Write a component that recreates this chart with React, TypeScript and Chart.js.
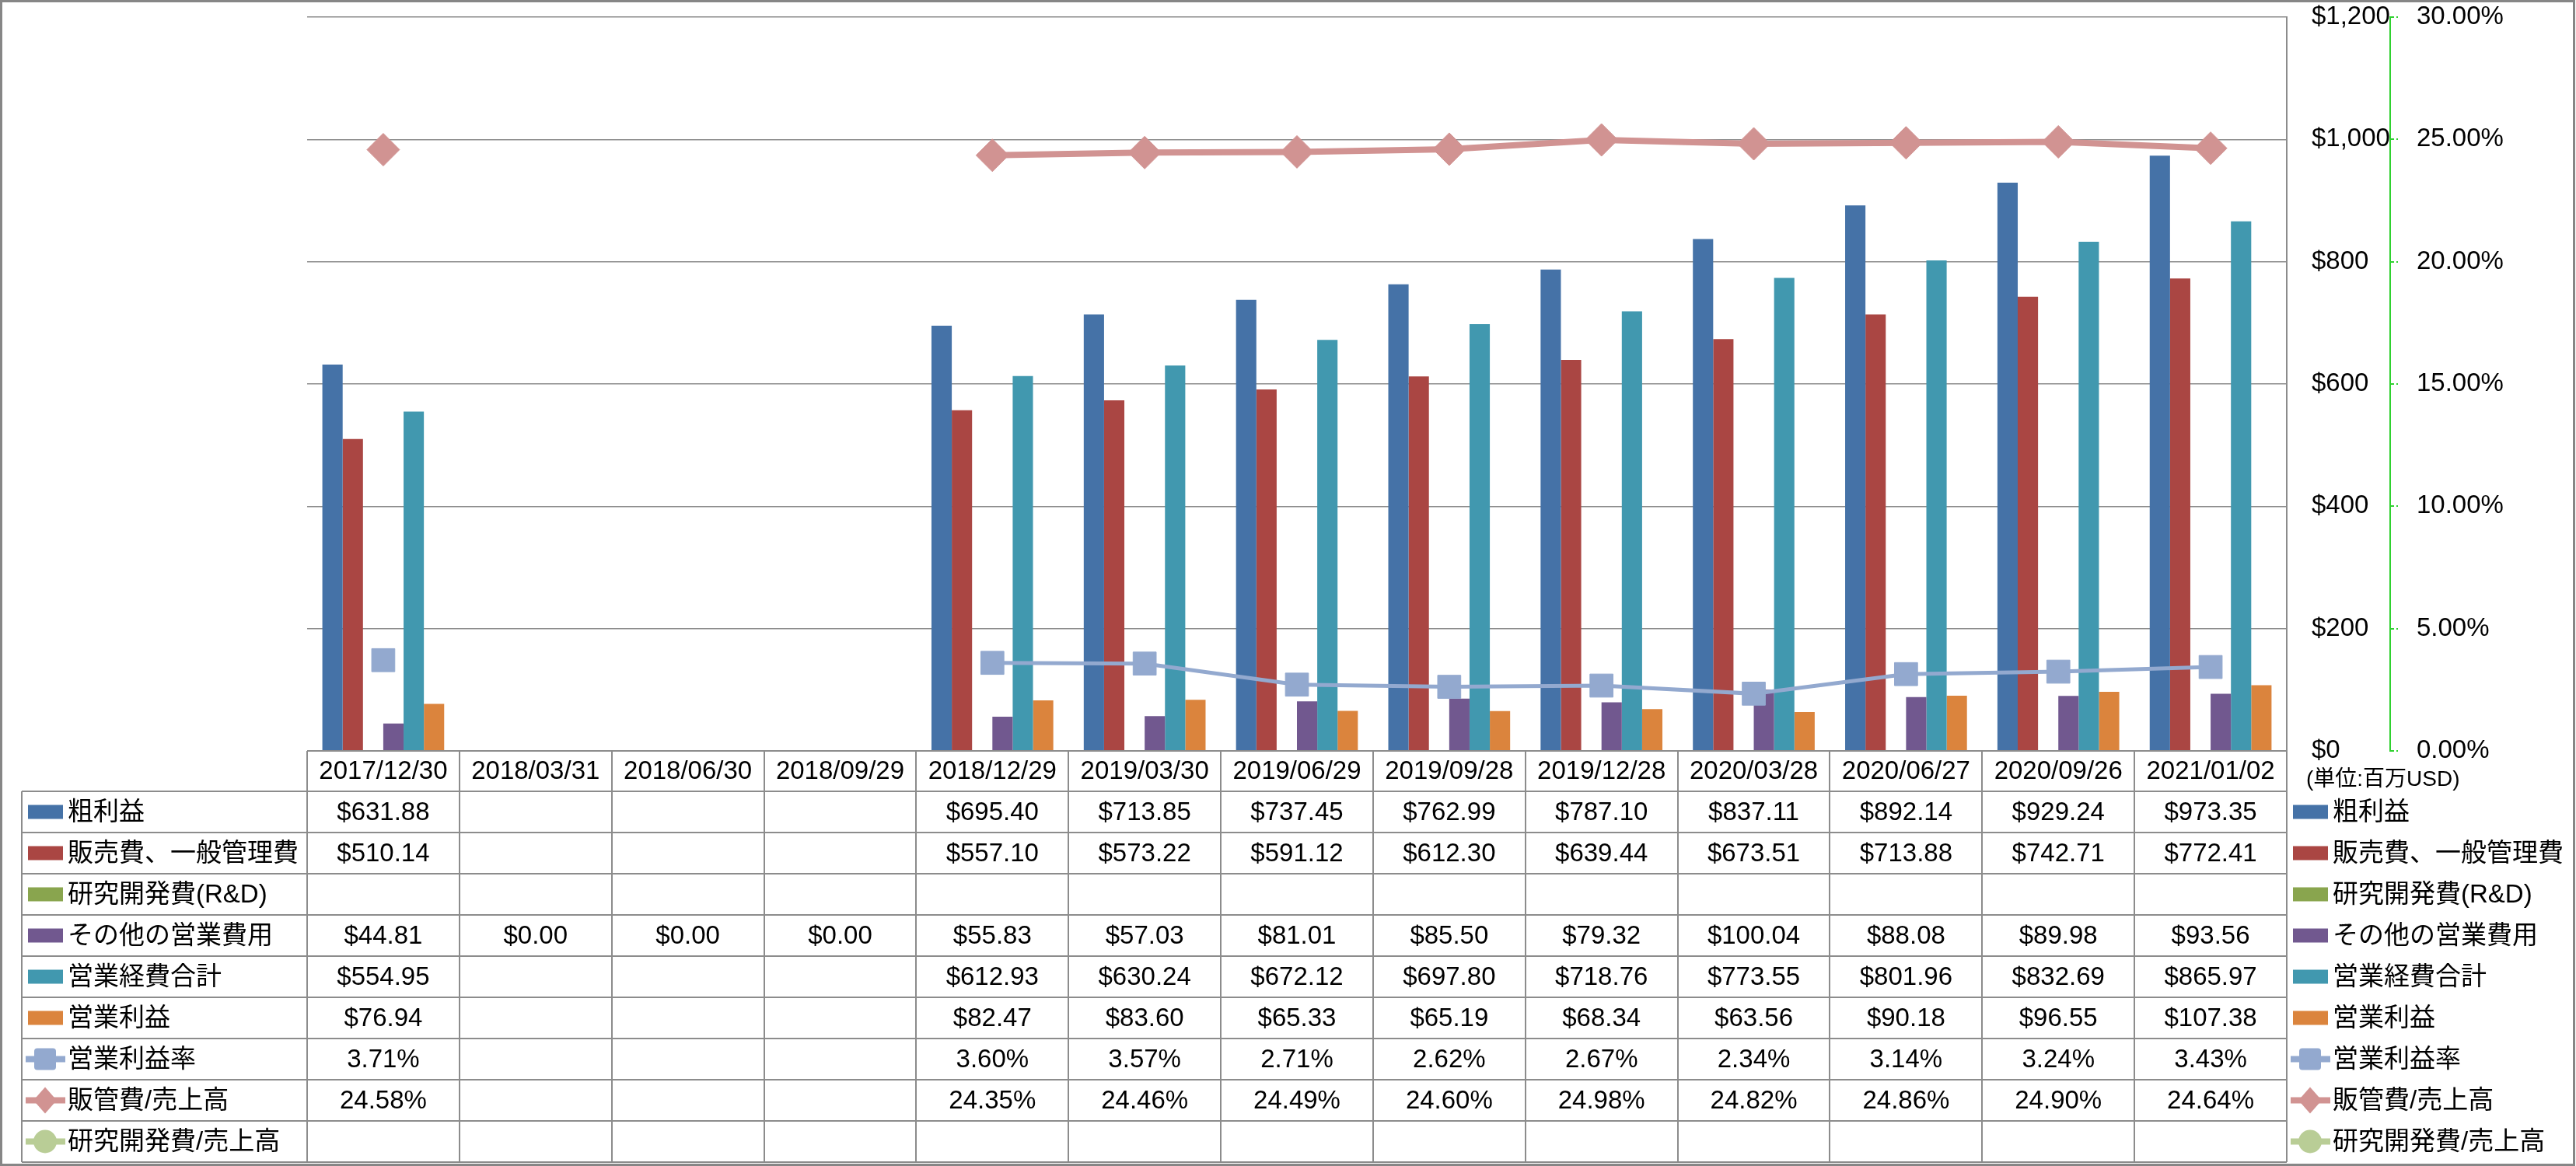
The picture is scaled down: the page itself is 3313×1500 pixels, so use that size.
import React, { useEffect, useRef } from 'react';
import { Chart, registerables } from 'chart.js';

Chart.register(...registerables);

// ---------- data ----------
const categories = [
  '2017/12/30', '2018/03/31', '2018/06/30', '2018/09/29', '2018/12/29', '2019/03/30', '2019/06/29',
  '2019/09/28', '2019/12/28', '2020/03/28', '2020/06/27', '2020/09/26', '2021/01/02',
];
const grossProfit = [631.88, null, null, null, 695.4, 713.85, 737.45, 762.99, 787.1, 837.11, 892.14, 929.24, 973.35];
const sgaExpense = [510.14, null, null, null, 557.1, 573.22, 591.12, 612.3, 639.44, 673.51, 713.88, 742.71, 772.41];
const rdExpense = [null, null, null, null, null, null, null, null, null, null, null, null, null];
const otherOpex = [44.81, 0, 0, 0, 55.83, 57.03, 81.01, 85.5, 79.32, 100.04, 88.08, 89.98, 93.56];
const totalOpex = [554.95, null, null, null, 612.93, 630.24, 672.12, 697.8, 718.76, 773.55, 801.96, 832.69, 865.97];
const operatingIncome = [76.94, null, null, null, 82.47, 83.6, 65.33, 65.19, 68.34, 63.56, 90.18, 96.55, 107.38];
const operatingMargin = [3.71, null, null, null, 3.6, 3.57, 2.71, 2.62, 2.67, 2.34, 3.14, 3.24, 3.43];
const sgaToSales = [24.58, null, null, null, 24.35, 24.46, 24.49, 24.6, 24.98, 24.82, 24.86, 24.9, 24.64];
const rdToSales = [null, null, null, null, null, null, null, null, null, null, null, null, null];

const seriesNames = [
  '粗利益', '販売費、一般管理費', '研究開発費(R&D)', 'その他の営業費用', '営業経費合計', '営業利益',
  '営業利益率', '販管費/売上高', '研究開発費/売上高',
];
const unitLabel = '(単位:百万USD)';

// ---------- styles ----------
const W = 3313;
const H = 1500;
const FONT = '"Liberation Sans", "Noto Sans CJK JP", sans-serif';
const FS = 33;
const GRID = '#8c8c8c';
const GREEN_AXIS = '#2fd12f';
const barColors = ['#4572A7', '#AA4643', '#89A54E', '#71588F', '#4198AF', '#DB843D'];
const lineColors = ['#93A9CF', '#D19392', '#B9CD96'];
const lineMarkers = ['rect', 'rectRot', 'circle'];

type Row = { name: string; values: (number | null)[]; kind: 'bar' | 'line'; color: string; marker?: string; pct: boolean };

const rows: Row[] = [
  { name: seriesNames[0], values: grossProfit, kind: 'bar', color: barColors[0], pct: false },
  { name: seriesNames[1], values: sgaExpense, kind: 'bar', color: barColors[1], pct: false },
  { name: seriesNames[2], values: rdExpense, kind: 'bar', color: barColors[2], pct: false },
  { name: seriesNames[3], values: otherOpex, kind: 'bar', color: barColors[3], pct: false },
  { name: seriesNames[4], values: totalOpex, kind: 'bar', color: barColors[4], pct: false },
  { name: seriesNames[5], values: operatingIncome, kind: 'bar', color: barColors[5], pct: false },
  { name: seriesNames[6], values: operatingMargin, kind: 'line', color: lineColors[0], marker: lineMarkers[0], pct: true },
  { name: seriesNames[7], values: sgaToSales, kind: 'line', color: lineColors[1], marker: lineMarkers[1], pct: true },
  { name: seriesNames[8], values: rdToSales, kind: 'line', color: lineColors[2], marker: lineMarkers[2], pct: true },
];

function drawKey(ctx: CanvasRenderingContext2D, row: Row, x0: number, cy: number) {
  if (row.kind === 'bar') {
    ctx.fillStyle = row.color;
    ctx.fillRect(x0, cy - 9, 45, 18);
    return;
  }
  ctx.strokeStyle = row.color;
  ctx.lineWidth = 8;
  ctx.beginPath();
  ctx.moveTo(x0 - 3, cy);
  ctx.lineTo(x0 + 48, cy);
  ctx.stroke();
  const cx = x0 + 22;
  ctx.fillStyle = row.color;
  ctx.beginPath();
  if (row.marker === 'rect') {
    (ctx as any).roundRect(cx - 14, cy - 14, 28, 28, 4);
  } else if (row.marker === 'rectRot') {
    ctx.moveTo(cx, cy - 17);
    ctx.lineTo(cx + 15, cy);
    ctx.lineTo(cx, cy + 17);
    ctx.lineTo(cx - 15, cy);
    ctx.closePath();
  } else {
    ctx.arc(cx, cy, 15, 0, Math.PI * 2);
  }
  ctx.fill();
}

const tablePlugin = {
  id: 'dataTable',
  afterDraw(chart: any) {
    const ctx: CanvasRenderingContext2D = chart.ctx;
    const xs = chart.scales.x;
    const area = chart.chartArea;
    const n = categories.length;
    const colW = (area.right - area.left) / n;
    const top = area.bottom;
    const headerH = 52;
    const rowH = 53;
    const tableLeft = 28;
    const bottom = top + headerH + rows.length * rowH;
    ctx.save();

    // grid lines
    ctx.strokeStyle = GRID;
    ctx.lineWidth = 2;
    ctx.beginPath();
    ctx.moveTo(area.left, top);
    ctx.lineTo(area.right, top);
    for (let k = 0; k <= n; k++) {
      const x = Math.round(area.left + k * colW);
      ctx.moveTo(x, top);
      ctx.lineTo(x, bottom);
    }
    ctx.moveTo(tableLeft, top + headerH);
    ctx.lineTo(tableLeft, bottom);
    for (let r = 0; r <= rows.length; r++) {
      const y = Math.round(top + headerH + r * rowH);
      ctx.moveTo(tableLeft, y);
      ctx.lineTo(area.right, y);
    }
    ctx.stroke();

    // header
    ctx.fillStyle = '#000';
    ctx.font = `${FS}px ${FONT}`;
    ctx.textBaseline = 'middle';
    ctx.textAlign = 'center';
    categories.forEach((c, i) => {
      ctx.fillText(c, xs.getPixelForValue(i), top + headerH / 2 + 1);
    });

    // rows
    rows.forEach((row, r) => {
      const cy = top + headerH + r * rowH + rowH / 2;
      drawKey(ctx, row, 36, cy);
      ctx.fillStyle = '#000';
      ctx.textAlign = 'left';
      ctx.fillText(row.name, 87, cy + 1);
      ctx.textAlign = 'center';
      row.values.forEach((v, i) => {
        if (v === null || v === undefined) return;
        const txt = row.pct ? `${v.toFixed(2)}%` : `$${v.toFixed(2)}`;
        ctx.fillText(txt, xs.getPixelForValue(i), cy + 1);
      });
      // right legend
      drawKey(ctx, row, 2949, cy);
      ctx.fillStyle = '#000';
      ctx.textAlign = 'left';
      ctx.fillText(row.name, 3000, cy + 1);
    });

    // unit label
    ctx.font = `28px ${FONT}`;
    ctx.textAlign = 'left';
    ctx.fillText(unitLabel, 2966, top + 37);

    // outer frame
    ctx.strokeStyle = '#868686';
    ctx.lineWidth = 3;
    ctx.strokeRect(1.5, 1.5, W - 4, H - 3);
    ctx.restore();
  },
};

export default function App() {
  const ref = useRef<HTMLCanvasElement>(null);
  useEffect(() => {
    document.body.style.margin = '0';
    const canvas = ref.current!;
    const barSets = rows.filter((r) => r.kind === 'bar').map((r) => ({
      type: 'bar' as const,
      label: r.name,
      data: r.values,
      backgroundColor: r.color,
      borderWidth: 0,
      yAxisID: 'y',
      order: 2,
      categoryPercentage: 0.8,
      barPercentage: 1.0,
    }));
    const lineStyles = [
      { lw: 5, radius: 21 },
      { lw: 8, radius: 21 },
      { lw: 8, radius: 18 },
    ];
    const lineSets = rows.filter((r) => r.kind === 'line').map((r, k) => ({
      type: 'line' as const,
      label: r.name,
      data: r.values,
      borderColor: r.color,
      backgroundColor: r.color,
      borderWidth: lineStyles[k].lw,
      pointStyle: r.marker,
      pointRadius: lineStyles[k].radius,
      pointBorderWidth: 1,
      pointBorderColor: r.color,
      pointBackgroundColor: r.color,
      spanGaps: false,
      tension: 0,
      yAxisID: 'y1',
      order: 1,
    }));

    const noPad = (s: any, w: number) => {
      s.width = w;
      s.paddingTop = 0;
      s.paddingBottom = 0;
    };

    const chart = new Chart(canvas, {
      type: 'bar',
      data: { labels: categories, datasets: [...barSets, ...lineSets] as any },
      options: {
        responsive: false,
        animation: false,
        devicePixelRatio: 1,
        layout: { padding: { left: 395, top: 21, bottom: 534, right: 39 } },
        plugins: { legend: { display: false }, tooltip: { enabled: false } },
        scales: {
          x: { type: 'category', display: false, offset: true },
          y: {
            position: 'right',
            weight: 0,
            min: 0,
            max: 1200,
            ticks: {
              stepSize: 200,
              padding: 32,
              color: '#000',
              font: { family: FONT, size: FS },
              callback: (v: any) => '$' + Number(v).toLocaleString('en-US'),
            },
            grid: { color: GRID, lineWidth: 1.5, drawTicks: false },
            border: { display: true, color: GRID, width: 2 },
            afterFit: (s: any) => noPad(s, 133),
          },
          y1: {
            position: 'right',
            weight: 1,
            min: 0,
            max: 30,
            ticks: {
              stepSize: 5,
              padding: 24,
              color: '#000',
              font: { family: FONT, size: FS },
              callback: (v: any) => Number(v).toFixed(2) + '%',
            },
            grid: { drawOnChartArea: false, drawTicks: true, tickLength: 10, color: GREEN_AXIS, lineWidth: 2, tickBorderDash: [4, 3] },
            border: { display: true, color: GREEN_AXIS, width: 2, dash: [4, 4] },
            afterFit: (s: any) => noPad(s, 200),
          },
        },
      } as any,
      plugins: [tablePlugin],
    });
    return () => chart.destroy();
  }, []);
  return (
    <div style={{ width: W, height: H }}>
      <canvas ref={ref} width={W} height={H} style={{ width: W, height: H, display: 'block' }} />
    </div>
  );
}
